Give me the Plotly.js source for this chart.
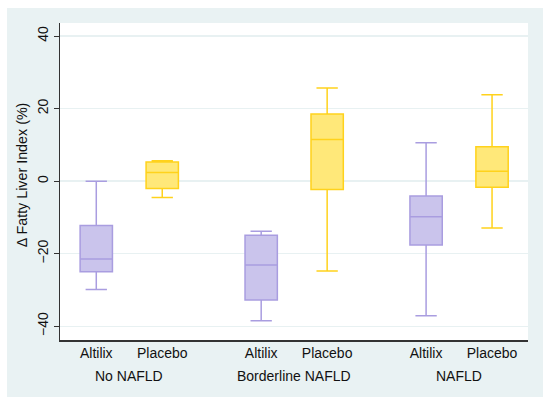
<!DOCTYPE html>
<html>
<head>
<meta charset="utf-8">
<script src="https://cdn.plot.ly/plotly-3.0.1.min.js"></script>
<style>
html,body{margin:0;padding:0;background:#ffffff;width:550px;height:406px;overflow:hidden;}
#chart{position:absolute;left:7px;top:8px;width:536px;height:389px;}
</style>
</head>
<body>
<div id="chart"></div>
<script>
var groups = ["No NAFLD", "Borderline NAFLD", "NAFLD"];
var treatments = ["Altilix", "Placebo"];

// per group: [No NAFLD, Borderline NAFLD, NAFLD]
var altilixLower  = [-29.9, -38.5, -37.1];
var altilixQ1     = [-25.0, -32.8, -17.6];
var altilixMedian = [-21.5, -23.1, -9.8];
var altilixQ3     = [-12.2, -14.9, -4.1];
var altilixUpper  = [0.0, -13.8, 10.6];

var placeboLower  = [-4.5, -24.8, -12.9];
var placeboQ1     = [-2.0, -2.3, -1.7];
var placeboMedian = [2.4, 11.5, 2.7];
var placeboQ3     = [5.3, 18.5, 9.5];
var placeboUpper  = [5.6, 25.7, 23.8];

var yTicks = [-40, -20, 0, 20, 40];
var yTitle = "Δ Fatty Liver Index (%)";

function pos(g, t){ return 1 + g*2.5 + t; }

var styles = [
  {fill:"#cac4ec", line:"#a99de0"},
  {fill:"#ffe879", line:"#ffd21c"}
];
var series = [
  [altilixLower, altilixQ1, altilixMedian, altilixQ3, altilixUpper],
  [placeboLower, placeboQ1, placeboMedian, placeboQ3, placeboUpper]
];

var traces = [];
treatments.forEach(function(tr, t){
  var s = series[t];
  traces.push({
    type:"box",
    name: tr,
    x: groups.map(function(_, g){ return pos(g, t); }),
    lowerfence: s[0], q1: s[1], median: s[2], q3: s[3], upperfence: s[4],
    fillcolor: styles[t].fill,
    line: {color: styles[t].line, width: 1.5},
    width: 0.49,
    whiskerwidth: 0.66,
    boxpoints: false,
    hoverinfo: "skip",
    showlegend: false
  });
});

var tickvals = [], ticktext = [];
groups.forEach(function(_, g){
  treatments.forEach(function(tr, t){ tickvals.push(pos(g, t)); ticktext.push(tr); });
});

var FONT = "Liberation Sans, Arial, sans-serif";
var annotations = groups.map(function(name, g){
  return {
    text: name, x: (pos(g,0)+pos(g,1))/2, xref:"x", y: -0.1125, yref:"paper",
    yanchor:"middle", xanchor:"center", showarrow:false,
    font:{family:FONT, size:14, color:"#111111"}
  };
});
annotations.push({
  text: yTitle, textangle:-90, xref:"paper", yref:"paper",
  x:-0.081, y:0.52, xanchor:"center", yanchor:"middle", showarrow:false,
  font:{family:FONT, size:14.3, color:"#111111"}
});

var layout = {
  width:536, height:389,
  paper_bgcolor:"#e9f2f3",
  plot_bgcolor:"#ffffff",
  margin:{l:53, r:15, t:15, b:57},
  font:{family:FONT, color:"#111111"},
  xaxis:{
    range:[0.45, 7.545],
    tickvals: tickvals, ticktext: ticktext,
    ticks:"", showgrid:false, zeroline:false,
    showline:true, linecolor:"#333333", linewidth:1.5,
    tickfont:{size:14, color:"#111111"},
    fixedrange:true
  },
  yaxis:{
    range:[-43.8, 43.6],
    tickvals: yTicks,
    tickangle:-90,
    ticks:"outside", ticklen:5, tickcolor:"#333333", tickwidth:1,
    showgrid:true, gridcolor:"#e8f1f2", gridwidth:1.3,
    zeroline:false,
    showline:true, linecolor:"#333333", linewidth:1.5,
    tickfont:{size:14, color:"#111111"},
    fixedrange:true
  },
  annotations: annotations,
  showlegend:false
};

Plotly.newPlot("chart", traces, layout, {displayModeBar:false, staticPlot:true});
</script>
</body>
</html>
